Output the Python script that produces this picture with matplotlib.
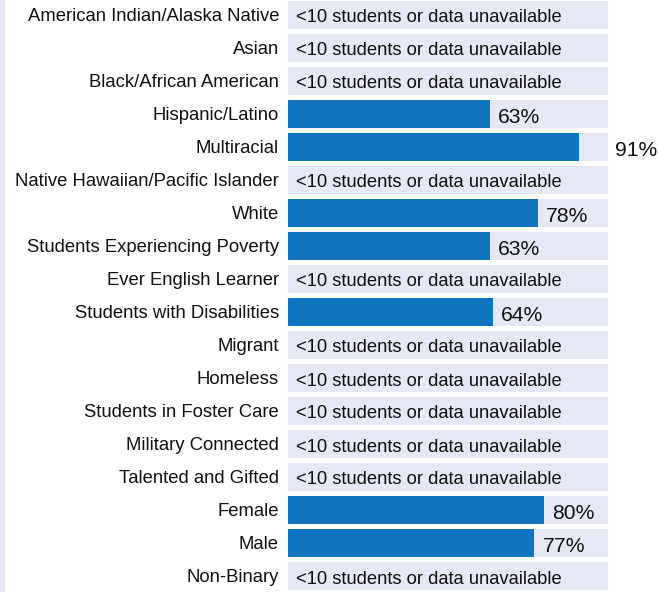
import matplotlib.pyplot as plt
from matplotlib.patches import Rectangle

plt.rcParams['font.family'] = ['Liberation Sans', 'DejaVu Sans']

# groups and rates (None = <10 students or data unavailable)
groups = ['American Indian/Alaska Native', 'Asian', 'Black/African American',
          'Hispanic/Latino', 'Multiracial', 'Native Hawaiian/Pacific Islander',
          'White', 'Students Experiencing Poverty', 'Ever English Learner',
          'Students with Disabilities', 'Migrant', 'Homeless',
          'Students in Foster Care', 'Military Connected', 'Talented and Gifted',
          'Female', 'Male', 'Non-Binary']
values = [None, None, None, 63, 91, None, 78, 63, None, 64,
          None, None, None, None, None, 80, 77, None]

blue = '#1174be'
lav = '#e6e8f5'

W, H = 658, 592
fig = plt.figure(figsize=(W / 100, H / 100), dpi=100)
fig.patches.append(Rectangle((0, 0), 4 / W, 1, transform=fig.transFigure,
                             color=lav, zorder=0))

ax = fig.add_axes([288 / W, 0, 320 / W, 1])
pitch = 33
ax.set_xlim(0, 100)
ax.set_ylim((H - 15) / pitch, -15 / pitch)
ax.axis('off')

px = 100 / 320      # one pixel in data units (x)
py = 1 / pitch      # one pixel in data units (y)

for i, (g, v) in enumerate(zip(groups, values)):
    ax.barh(i, 100, height=28 / pitch, color=lav, zorder=1)
    ax.text(-9 * px, i + 1.5 * py, g, ha='right', va='center', fontsize=13.3,
            color='#111111', clip_on=False)
    if v is None:
        ax.text(8 * px, i + 3 * py, '<10 students or data unavailable',
                ha='left', va='center', fontsize=13.2, color='#111111', zorder=3)
    else:
        ax.barh(i, v, height=28 / pitch, color=blue, zorder=2)
        x = v + 8 * px if v < 85 else 102.2
        ax.text(x, i + 3.5 * py, f'{v}%', ha='left', va='center',
                fontsize=15.2, color='#111111', zorder=3, clip_on=False)

fig.savefig('out.png', dpi=100)
